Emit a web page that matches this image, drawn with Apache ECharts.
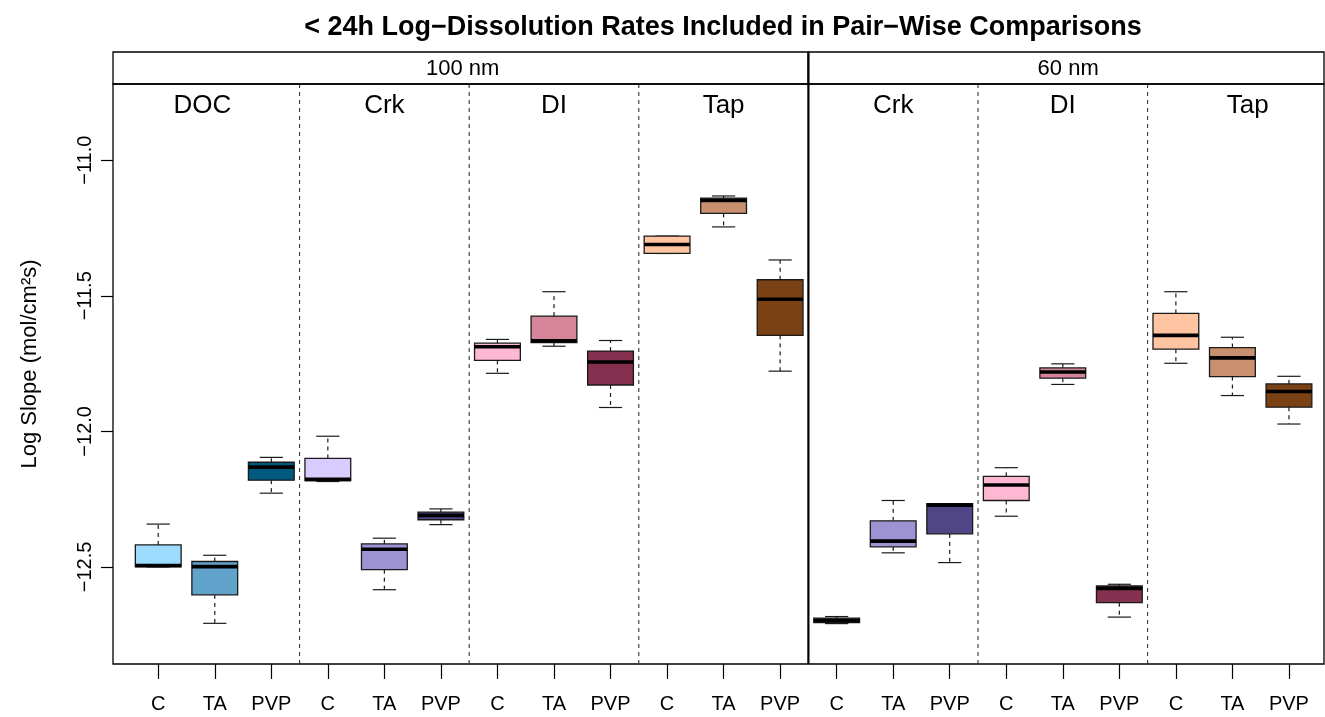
<!DOCTYPE html>
<html>
<head>
<meta charset="utf-8">
<script src="https://cdn.jsdelivr.net/npm/echarts@6/dist/echarts.min.js"></script>
<style>
  html, body { margin: 0; padding: 0; background: #fff; }
  #chart { width: 1325px; height: 717px; }
</style>
</head>
<body>
<div id="chart"></div>
<script>
// boxplot data (log slope, mol/cm2 s)
var treatments = ['C', 'TA', 'PVP'];
var sizes = ['100 nm', '60 nm'];
var media100 = ['DOC', 'Crk', 'DI', 'Tap'];
var media60 = ['Crk', 'DI', 'Tap'];
// where the medium names sit along the x axis
var mediaLabelX = [1.78, 5, 8, 11, 14, 17, 20.27];

var lowWhisker = [-12.50, -12.708, -12.228, -12.185, -12.584, -12.344, -11.786, -11.686, -11.912, -11.344, -11.246, -11.778,
                  -12.709, -12.448, -12.484, -12.313, -11.827, -12.685, -11.749, -11.868, -11.973];
var q1 = [-12.50, -12.603, -12.180, -12.182, -12.510, -12.326, -11.738, -11.673, -11.829, -11.344, -11.196, -11.646,
          -12.705, -12.426, -12.378, -12.255, -11.804, -12.632, -11.697, -11.798, -11.911];
var median = [-12.495, -12.499, -12.132, -12.177, -12.435, -12.310, -11.688, -11.666, -11.744, -11.311, -11.148, -11.513,
              -12.697, -12.405, -12.272, -12.198, -11.781, -12.579, -11.646, -11.729, -11.853];
var q3 = [-12.419, -12.480, -12.114, -12.100, -12.415, -12.298, -11.675, -11.575, -11.704, -11.280, -11.140, -11.441,
          -12.689, -12.330, -12.267, -12.166, -11.766, -12.570, -11.565, -11.691, -11.825];
var highWhisker = [-12.342, -12.457, -12.096, -12.018, -12.394, -12.286, -11.661, -11.485, -11.665, -11.280, -11.132, -11.368,
                   -12.683, -12.255, -12.267, -12.134, -11.751, -12.564, -11.485, -11.653, -11.797];

var yTicks = [-12.5, -12.0, -11.5, -11.0];

var mediaColors = {
    DOC: ['#9ddbff', '#62a3cc', '#005a80'],
    Crk: ['#d8ccff', '#9d92d2', '#514685'],
    DI:  ['#ffb8d3', '#d58499', '#86304f'],
    Tap: ['#ffc5a3', '#c8906e', '#7a4214']
};

// build box list from the groups
var media = media100.concat(media60);
var boxes = [];
var labels = [];
var colors = [];
media.forEach(function (m) {
    treatments.forEach(function (t, j) {
        var i = boxes.length;
        labels.push(t);
        colors.push(mediaColors[m][j]);
        boxes.push([i + 1, lowWhisker[i], q1[i], median[i], q3[i], highWhisker[i]]);
    });
});
var groupLabels = media.map(function (m, k) { return [mediaLabelX[k], -12]; });
var separators = [];
for (var k = 1; k < media.length; k++) {
    separators.push([k * 3 + 0.5, -12, k === media100.length ? 1 : 0]);
}
var xMin = 0.2, xMax = 21.62;
var splitAt = media100.length * 3 + 0.5;
var strips = [[xMin, splitAt, -12, 0], [splitAt, xMax, -12, 1]];

var font = '"Liberation Sans", Arial, Helvetica, sans-serif';
var chart = echarts.init(document.getElementById('chart'));

function renderBox(params, api) {
    var x = api.value(0);
    var pLow = api.coord([x, api.value(1)]);
    var pQ1 = api.coord([x, api.value(2)]);
    var pMed = api.coord([x, api.value(3)]);
    var pQ3 = api.coord([x, api.value(4)]);
    var pHigh = api.coord([x, api.value(5)]);
    var bw = api.size([0.81, 0])[0] / 2;
    var cw = api.size([0.41, 0])[0] / 2;
    var cx = pMed[0];
    var stroke = '#1a1a1a';
    return {
        type: 'group',
        children: [
            { type: 'line', shape: { x1: cx, y1: pQ3[1], x2: cx, y2: pHigh[1] },
              style: { stroke: stroke, lineWidth: 1.2, lineDash: [4, 4] } },
            { type: 'line', shape: { x1: cx, y1: pQ1[1], x2: cx, y2: pLow[1] },
              style: { stroke: stroke, lineWidth: 1.2, lineDash: [4, 4] } },
            { type: 'line', shape: { x1: cx - cw, y1: pHigh[1], x2: cx + cw, y2: pHigh[1] },
              style: { stroke: stroke, lineWidth: 1.2 } },
            { type: 'line', shape: { x1: cx - cw, y1: pLow[1], x2: cx + cw, y2: pLow[1] },
              style: { stroke: stroke, lineWidth: 1.2 } },
            { type: 'rect', shape: { x: cx - bw, y: pQ3[1], width: bw * 2, height: pQ1[1] - pQ3[1] },
              style: { fill: colors[params.dataIndex], stroke: stroke, lineWidth: 1.3 } },
            { type: 'line', shape: { x1: cx - bw, y1: pMed[1], x2: cx + bw, y2: pMed[1] },
              style: { stroke: '#000', lineWidth: 3.6 } }
        ]
    };
}

function renderSeparator(params, api) {
    var cs = params.coordSys;
    var p = api.coord([api.value(0), api.value(1)]);
    var solid = api.value(2) === 1;
    return {
        type: 'line',
        shape: { x1: p[0], y1: solid ? cs.y - 32 : cs.y, x2: p[0], y2: cs.y + cs.height },
        style: solid ? { stroke: '#000', lineWidth: 2.2 } : { stroke: '#333', lineWidth: 1.1, lineDash: [4, 4] }
    };
}

function renderStrip(params, api) {
    var cs = params.coordSys;
    var a = api.coord([api.value(0), api.value(2)]);
    var b = api.coord([api.value(1), api.value(2)]);
    return {
        type: 'group',
        children: [
            { type: 'rect', shape: { x: a[0], y: cs.y - 32, width: b[0] - a[0], height: 32 },
              style: { fill: 'none', stroke: '#000', lineWidth: 1.3 } },
            { type: 'text', x: (a[0] + b[0]) / 2 + 2, y: cs.y - 15,
              style: { text: sizes[api.value(3)], fill: '#000', font: '22px ' + font, align: 'center', verticalAlign: 'middle' } }
        ]
    };
}

function renderGroupLabel(params, api) {
    var cs = params.coordSys;
    var p = api.coord([api.value(0), api.value(1)]);
    return {
        type: 'text', x: p[0], y: cs.y + 22,
        style: { text: media[params.dataIndex], fill: '#000', font: '26px ' + font, align: 'center', verticalAlign: 'middle' }
    };
}

var option = {
    animation: false,
    backgroundColor: '#fff',
    graphic: [
        { type: 'text', x: 723, y: 28,
          style: { text: '< 24h Log\u2212Dissolution Rates Included in Pair\u2212Wise Comparisons', fill: '#000',
                   font: 'bold 27px ' + font, align: 'center', verticalAlign: 'middle' } },
        { type: 'text', x: 30, y: 364, rotation: Math.PI / 2,
          style: { text: 'Log Slope (mol/cm\u00b2s)', fill: '#000', font: '22px ' + font, align: 'center', verticalAlign: 'middle' } }
    ],
    grid: {
        left: 113, right: 1, top: 84, bottom: 53,
        show: true, borderColor: '#000', borderWidth: 1.3, backgroundColor: 'transparent'
    },
    xAxis: {
        type: 'value', min: xMin, max: xMax,
        splitLine: { show: false },
        axisLine: { show: false },
        axisTick: { show: true, customValues: boxes.map(function (b) { return b[0]; }), length: 15, lineStyle: { color: '#000', width: 1.2 } },
        axisLabel: {
            customValues: boxes.map(function (b) { return b[0]; }),
            formatter: function (v) { return labels[Math.round(v) - 1] || ''; },
            color: '#000', fontSize: 20, fontFamily: font, margin: 30
        }
    },
    yAxis: {
        type: 'value', min: -12.858, max: -10.719,
        splitLine: { show: false },
        axisLine: { show: false },
        axisTick: { show: true, customValues: yTicks, length: 12, lineStyle: { color: '#000', width: 1.2 } },
        axisLabel: {
            customValues: yTicks,
            rotate: 90,
            formatter: function (v) { return v.toFixed(1).replace('-', '\u2212'); },
            color: '#000', fontSize: 20, fontFamily: font, margin: 18
        }
    },
    series: [
        { name: 'separators', type: 'custom', renderItem: renderSeparator, data: separators,
          encode: { x: 0, y: 1 }, silent: true, z: 1 },
        { name: 'strips', type: 'custom', renderItem: renderStrip, data: strips,
          encode: { x: [0, 1], y: 2 }, silent: true, z: 1 },
        { name: 'groups', type: 'custom', renderItem: renderGroupLabel, data: groupLabels,
          encode: { x: 0, y: 1 }, silent: true, z: 1 },
        { name: 'boxes', type: 'custom', renderItem: renderBox, data: boxes,
          encode: { x: 0, y: [1, 2, 3, 4, 5] }, z: 3 }
    ]
};
chart.setOption(option);
</script>
</body>
</html>
